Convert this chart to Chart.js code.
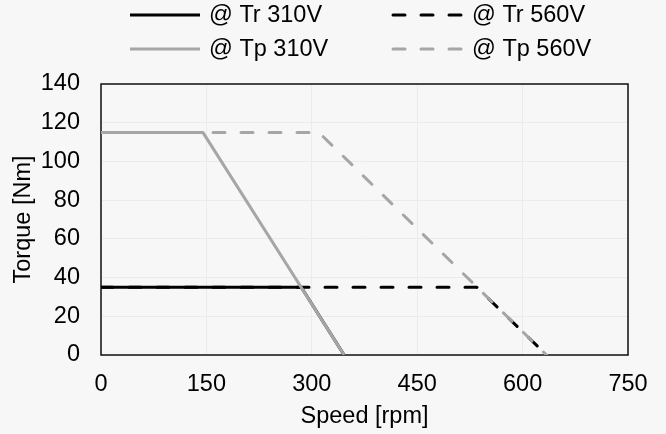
<!DOCTYPE html>
<html>
<head>
<meta charset="utf-8">
<script src="https://cdn.jsdelivr.net/npm/chart.js@4/dist/chart.umd.min.js"></script>
<style>
html,body{margin:0;padding:0;background:#f7f7f7;}
canvas{display:block;}
</style>
</head>
<body>
<canvas id="torqueChart" width="666" height="434"></canvas>
<script>
// torque/speed envelopes, corner points only
var speedTr310 = [0, 285, 346];
var torqueTr310 = [35, 35, 0];
var speedTr560 = [0, 535, 634];
var torqueTr560 = [35, 35, 0];
var speedTp310 = [0, 145, 346];
var torqueTp310 = [115, 115, 0];
var speedTp560 = [0, 310, 634];
var torqueTp560 = [115, 115, 0];

var seriesLabels = ["@ Tr 310V", "@ Tr 560V", "@ Tp 310V", "@ Tp 560V"];
var speedTicks = [0, 150, 300, 450, 600, 750];
var torqueTicks = [0, 20, 40, 60, 80, 100, 120, 140];

var FONT = '"Liberation Sans", Arial, sans-serif';
var FONT_SIZE = 23.5;
var DASH = [12, 16];

function points(xs, ys){
  var out = [];
  for (var i = 0; i < xs.length; i++) out.push({x: xs[i], y: ys[i]});
  return out;
}

function curve(label, xs, ys, color, dashed, order){
  return {
    label: label,
    data: points(xs, ys),
    showLine: true,
    borderColor: color,
    backgroundColor: color,
    borderWidth: 3,
    borderDash: dashed ? DASH : [],
    borderCapStyle: dashed ? 'round' : 'butt',
    borderJoinStyle: 'round',
    pointRadius: 0,
    order: order
  };
}

// black box round the plot area
var plotBox = {
  id: 'plotBox',
  beforeDatasetsDraw: function(chart){
    var a = chart.chartArea, ctx = chart.ctx;
    ctx.save();
    ctx.strokeStyle = '#111';
    ctx.lineWidth = 1.5;
    ctx.strokeRect(a.left, a.top, a.right - a.left, a.bottom - a.top);
    ctx.restore();
  }
};

// two-column legend on top
var twoColLegend = {
  id: 'twoColLegend',
  afterDraw: function(chart){
    var ctx = chart.ctx;
    var colX = [130, 393], rowY = [15, 49];
    ctx.save();
    ctx.font = FONT_SIZE + 'px ' + FONT;
    ctx.textBaseline = 'middle';
    chart.data.datasets.forEach(function(ds, i){
      var x = colX[i % 2], y = rowY[Math.floor(i / 2)];
      ctx.strokeStyle = ds.borderColor;
      ctx.lineWidth = ds.borderWidth;
      ctx.lineCap = ds.borderCapStyle;
      ctx.setLineDash(ds.borderDash);
      ctx.beginPath();
      ctx.moveTo(x, y);
      ctx.lineTo(x + 70, y);
      ctx.stroke();
      ctx.setLineDash([]);
      ctx.fillStyle = '#000';
      ctx.fillText(ds.label, x + 79, y + 1);
    });
    ctx.restore();
  }
};

new Chart("torqueChart", {
  type: "scatter",
  data: {
    datasets: [
      curve(seriesLabels[0], speedTr310, torqueTr310, '#000000', false, 3),
      curve(seriesLabels[1], speedTr560, torqueTr560, '#000000', true, 2),
      curve(seriesLabels[2], speedTp310, torqueTp310, '#a6a6a6', false, 1),
      curve(seriesLabels[3], speedTp560, torqueTp560, '#a6a6a6', true, 0)
    ]
  },
  options: {
    responsive: false,
    animation: false,
    layout: { padding: { top: 84, right: 38, bottom: 0, left: 0 } },
    plugins: {
      legend: { display: false },
      tooltip: { enabled: false }
    },
    scales: {
      x: {
        type: 'linear',
        min: speedTicks[0],
        max: speedTicks[speedTicks.length - 1],
        afterBuildTicks: function(s){ s.ticks = speedTicks.map(function(v){ return {value: v}; }); },
        afterFit: function(s){ s.height = 79; },
        ticks: { color: '#000', font: { family: FONT, size: FONT_SIZE }, padding: 15, maxRotation: 0 },
        grid: { color: '#ebebeb', drawTicks: false },
        border: { display: false },
        title: { display: true, text: 'Speed [rpm]', color: '#000', font: { family: FONT, size: FONT_SIZE }, padding: { top: 0, bottom: 3 } }
      },
      y: {
        min: torqueTicks[0],
        max: torqueTicks[torqueTicks.length - 1],
        afterBuildTicks: function(s){ s.ticks = torqueTicks.map(function(v){ return {value: v}; }); },
        afterFit: function(s){ s.width = 101; },
        ticks: { color: '#000', font: { family: FONT, size: FONT_SIZE }, padding: 21 },
        grid: { color: '#ebebeb', drawTicks: false },
        border: { display: false },
        title: { display: true, text: 'Torque [Nm]', color: '#000', font: { family: FONT, size: FONT_SIZE }, padding: { top: 9, bottom: 0 } }
      }
    }
  },
  plugins: [plotBox, twoColLegend]
});
</script>
</body>
</html>
